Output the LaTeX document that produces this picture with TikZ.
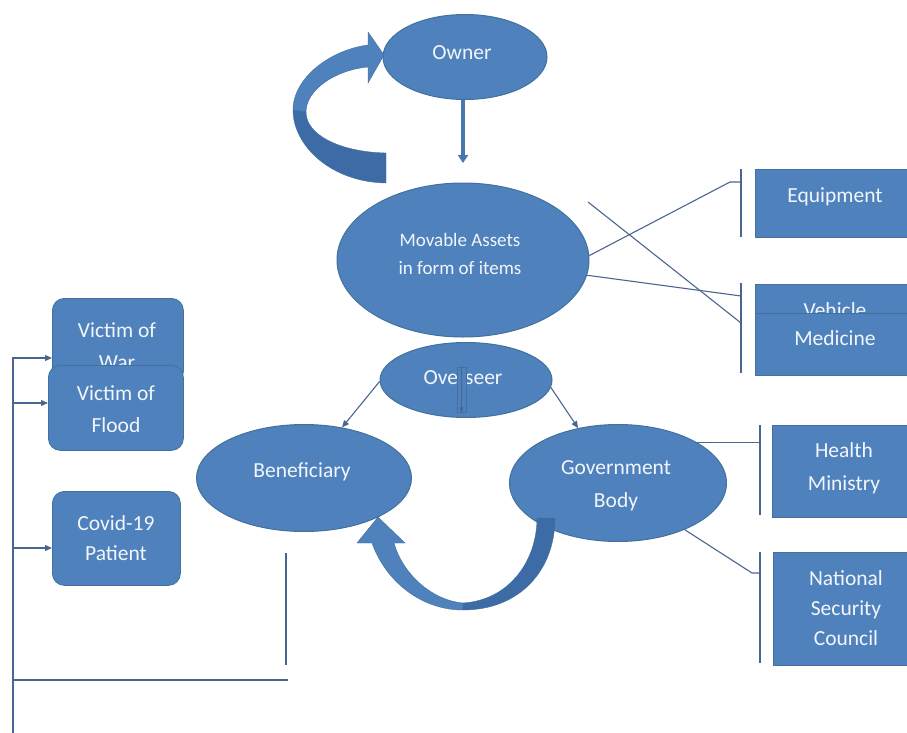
\documentclass[tikz,border=0pt]{standalone}
\usepackage{fontspec}
\setmainfont{Carlito}
\usetikzlibrary{shapes.geometric,arrows.meta}
\definecolor{boxfill}{HTML}{4F81BD}
\definecolor{boxline}{HTML}{41719C}
\definecolor{shade}{HTML}{3D6BA5}
\definecolor{wire}{HTML}{4A6590}
\definecolor{ink}{HTML}{F2F6FB}
\begin{document}
\begin{tikzpicture}[x=1pt,y=-1pt,
  ell/.style={ellipse, draw=boxline, line width=1pt, fill=boxfill, inner sep=0pt},
  sq/.style={rectangle, draw=boxline, line width=0.8pt, fill=boxfill, inner sep=0pt, anchor=north west},
  rbox/.style={rectangle, rounded corners=12pt, draw=boxline, line width=0.8pt, fill=boxfill, inner sep=0pt, anchor=north west},
  % labels are placed by the baseline of their last line
  lbl/.style={text=ink, align=center, anchor=base, inner sep=0pt, font=\fontsize{21.5}{33}\selectfont},
  wire/.style={draw=wire, line width=1.1pt},
  bar/.style={draw=wire, line width=1.6pt},
  tip/.style={-{Triangle[length=7pt,width=6pt]}},
  band/.style={fill=boxfill, draw=boxline, line width=0.4pt},
  bandshade/.style={fill=shade, draw=boxline, line width=0.4pt}]
\useasboundingbox (0,0) rectangle (907,733);
\clip (0,0) rectangle (907,733);

% ---------- ellipses ----------
\node[ell, minimum width=164pt, minimum height=85pt] (owner) at (465,57) {};
\node[lbl] (ownerT) at (462,59.5) {Owner};

\node[ell, minimum width=252pt, minimum height=154pt] (mov) at (463,260) {};
\node[lbl, font=\fontsize{19}{28}\selectfont] (movT) at (460,274.5) {Movable Assets\\in form of items};

\node[ell, minimum width=172pt, minimum height=75pt] (ov) at (466,380) {};
\node[lbl] (ovT) at (463,384.5) {Overseer};

\node[ell, minimum width=215pt, minimum height=107pt] (ben) at (304,478) {};
\node[lbl] (benT) at (302,477.5) {Beneficiary};

\node[ell, minimum width=217pt, minimum height=117pt] (gov) at (618,483) {};
\node[lbl] (govT) at (616,507.5) {Government\\Body};

% ---------- owner loop arrow ----------
\path[band] (368,45) .. controls (330,50) and (293,78) .. (293,110)
  -- (306,112) .. controls (306,90) and (335,70) .. (368,67)
  -- (368,83) -- (384,55) -- (368,32) -- cycle;
\path[bandshade] (293,110) .. controls (293,145) and (330,182) .. (386,183)
  -- (386,153) .. controls (340,152) and (306,135) .. (306,112) -- cycle;

% owner down to assets
\coordinate (ownEnd) at (463,163);
\draw[line width=3.6pt, draw=boxfill!92!black, -{Triangle[length=8pt,width=10pt]}]
  (owner.south -| ownEnd) -- (ownEnd);

% ---------- asset items ----------
\node[sq, minimum width=160pt, minimum height=68pt] (equip) at (755,169) {};
\node[lbl] (equipT) at (835,202.5) {Equipment};
\node[sq, minimum width=160pt, minimum height=62pt] (veh) at (755,284) {};
\node[lbl] (vehT) at (835,317) {Vehicle};
\node[sq, minimum width=160pt, minimum height=62pt] (med) at (755,313) {};
\node[lbl] (medT) at (835,345.5) {Medicine};

\coordinate (eqBarT) at (741,169);
\coordinate (eqBarB) at (741,237);
\coordinate (vmBarT) at (741,283);
\coordinate (vmBarB) at (741,373);
\draw[bar] (eqBarT) -- (eqBarB);
\draw[bar] (vmBarT) -- (vmBarB);
\coordinate (eqBend) at (730,182);
\draw[wire] (mov.2) -- (eqBend) -- (eqBend -| eqBarT);
\draw[wire] (mov.-7) -- (741,296);
\coordinate (crossStart) at (588,202);
\draw[wire] (crossStart) -- (741,323);

% ---------- overseer links ----------
\node[fill=boxfill, draw=boxline, line width=0.6pt, minimum width=9pt, minimum height=45pt, inner sep=0pt] (ovBar) at (461.5,389.5) {};
\draw[wire, line width=0.9pt, -{Triangle[length=5pt,width=4pt]}] (ovBar.north) -- (ovBar.south);
\draw[wire, tip] (ov.181) -- (ben.53);
\draw[wire, tip] (ov.-5) -- (gov.126);

% ---------- government branches ----------
\node[sq, minimum width=145pt, minimum height=92pt] (health) at (772,425) {};
\node[lbl] (healthT) at (844,490.5) {Health\\Ministry};
\node[sq, minimum width=145pt, minimum height=113pt] (nsc) at (773,552) {};
\node[lbl, font=\fontsize{21.5}{30}\selectfont] (nscT) at (846,645.5) {National\\Security\\Council};

\coordinate (hBarT) at (760,425);
\coordinate (hBarB) at (760,515);
\coordinate (nBarT) at (760,552);
\coordinate (nBarB) at (760,663);
\draw[bar] (hBarT) -- (hBarB);
\draw[bar] (nBarT) -- (nBarB);
\draw[wire] (gov.27) -- (gov.27 -| hBarT);
\coordinate (nBend) at (752,573);
\draw[wire] (gov.-35) -- (nBend) -- (nBend -| nBarT);

% ---------- return arrow from government to beneficiary ----------
\path[band] (372,543) .. controls (385,580) and (420,610) .. (463,610)
  -- (463,603) .. controls (430,600) and (402,572) .. (394,543)
  -- (405,543) -- (378,517) -- (357,543) -- cycle;
\path[bandshade] (463,610) .. controls (520,610) and (555,570) .. (555,518)
  -- (537,518) .. controls (537,560) and (510,600) .. (463,603) -- cycle;

% ---------- beneficiary groups ----------
\node[rbox, minimum width=131pt, minimum height=85pt] (war) at (52,298) {};
\node[lbl, font=\fontsize{21.5}{32}\selectfont] (warT) at (117,369.5) {Victim of\\War};
\node[rbox, minimum width=135pt, minimum height=85pt] (flood) at (48,365) {};
\node[lbl, font=\fontsize{21.5}{32}\selectfont] (floodT) at (116,432.5) {Victim of\\Flood};
\node[rbox, minimum width=128pt, minimum height=94pt] (covid) at (52,491) {};
\node[lbl, font=\fontsize{21.5}{30}\selectfont] (covidT) at (116,560.5) {Covid-19\\Patient};

\coordinate (busTop) at (13,357);
\coordinate (busBot) at (13,733);
\draw[wire] (busTop) -- (busBot);
\coordinate (tapWar) at (13,358);
\coordinate (tapFlood) at (13,403);
\coordinate (tapCovid) at (13,548);
\draw[wire, tip] (tapWar) -- (tapWar -| war.west);
\draw[wire, tip] (tapFlood) -- (tapFlood -| flood.west);
\draw[wire, tip] (tapCovid) -- (tapCovid -| covid.west);
\coordinate (busCorner) at (13,680);
\coordinate (busEnd) at (288,680);
\draw[wire] (busCorner) -- (busEnd);
\coordinate (stubTop) at (286,553);
\coordinate (stubBot) at (286,665);
\draw[wire] (stubTop) -- (stubBot);
\end{tikzpicture}
\end{document}
